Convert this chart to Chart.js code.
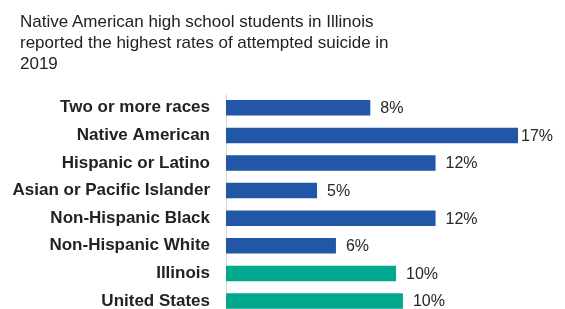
<!DOCTYPE html>
<html>
<head>
    <title>Attempted suicide, Illinois high school students 2019</title>
    <script src="https://cdn.jsdelivr.net/npm/chart.js"></script>
    <style>
        * { margin: 0; padding: 0; box-sizing: border-box; }
        body {
            width: 565px;
            height: 309px;
            overflow: hidden;
            background: #ffffff;
            font-family: Arial, "Liberation Sans", sans-serif;
            position: relative;
        }
        .title {
            position: absolute;
            left: 20px;
            top: 11px;
            font-size: 17px;
            line-height: 21px;
            color: #222222;
            z-index: 2;
        }
        .chart-container {
            position: absolute;
            left: 0;
            top: 0;
            width: 565px;
            height: 341px;
        }
    </style>
</head>
<body>
    <div class="title">Native American high school students in Illinois<br>reported the highest rates of attempted suicide in<br>2019</div>
    <div class="chart-container">
        <canvas id="suicideChart"></canvas>
    </div>

    <script>
        // Categorias e valores (percentual de estudantes)
        const groups = [
            'Two or more races',
            'Native American',
            'Hispanic or Latino',
            'Asian or Pacific Islander',
            'Non-Hispanic Black',
            'Non-Hispanic White',
            'Illinois',
            'United States'
        ];
        const rates = [8.4, 17.0, 12.2, 5.3, 12.2, 6.4, 9.9, 10.3];
        const barColors = [
            '#2157a6', '#2157a6', '#2157a6', '#2157a6',
            '#2157a6', '#2157a6', '#00a88e', '#00a88e'
        ];

        // Rótulos de valor no fim de cada barra
        const valueLabels = {
            id: 'valueLabels',
            afterDatasetsDraw(chart) {
                const ctx = chart.ctx;
                const meta = chart.getDatasetMeta(0);
                ctx.save();
                ctx.font = '16px Arial, "Liberation Sans", sans-serif';
                ctx.fillStyle = '#262626';
                ctx.textBaseline = 'middle';
                ctx.textAlign = 'left';
                meta.data.forEach((bar, i) => {
                    const txt = Math.round(rates[i]) + '%';
                    const w = ctx.measureText(txt).width;
                    const x = Math.min(bar.x + 10, chart.width - 12 - w);
                    ctx.fillText(txt, x, bar.y + 1);
                });
                ctx.restore();
            }
        };

        const config = {
            type: 'bar',
            data: {
                labels: groups,
                datasets: [{
                    data: rates,
                    backgroundColor: barColors,
                    borderWidth: 0,
                    categoryPercentage: 1,
                    barPercentage: 0.56
                }]
            },
            options: {
                indexAxis: 'y',
                responsive: true,
                maintainAspectRatio: false,
                animation: false,
                layout: {
                    padding: { top: 94, bottom: 0, left: 0, right: 29.8 }
                },
                scales: {
                    x: {
                        display: false,
                        min: 0,
                        max: 18
                    },
                    y: {
                        afterFit: (scale) => { scale.width = 226; },
                        grid: { display: false, drawTicks: false },
                        border: { display: true, color: '#d9d9d9', width: 1 },
                        ticks: {
                            padding: 16,
                            color: '#222222',
                            font: { family: 'Arial, "Liberation Sans", sans-serif', size: 17, weight: 'bold' }
                        }
                    }
                },
                plugins: {
                    legend: { display: false },
                    tooltip: { enabled: false }
                }
            },
            plugins: [valueLabels]
        };

        const ctx = document.getElementById('suicideChart').getContext('2d');
        const chart = new Chart(ctx, config);
    </script>
</body>
</html>
